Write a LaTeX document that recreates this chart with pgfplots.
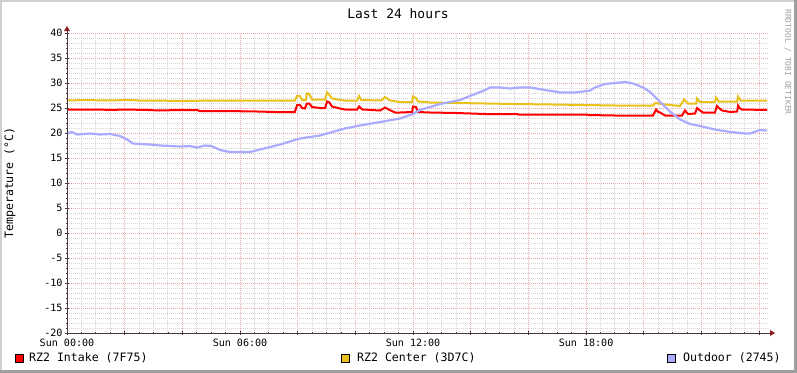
\documentclass[border=0pt]{standalone}
\usepackage{pgfplots}
\pgfplotsset{compat=1.18}
\usepackage{fontspec}
\setmainfont{DejaVu Sans Mono}
\usetikzlibrary{arrows.meta}
\definecolor{intake}{HTML}{FF0000}
\definecolor{center}{HTML}{EAC11A}
\definecolor{outdoor}{HTML}{AAAAFF}
\definecolor{majgrid}{HTML}{EBA8A8}
\definecolor{mingrid}{HTML}{D4D4D4}
\definecolor{axiscol}{HTML}{4A3838}
\definecolor{arrowcol}{HTML}{8B1A1A}
\definecolor{shadeA}{HTML}{CFCFCF}
\definecolor{shadeB}{HTML}{9E9E9E}
\definecolor{wmark}{HTML}{A0A0A0}
\newcommand{\axisfont}{\fontsize{10.1}{12}\selectfont}
\newcommand{\legfont}{\fontsize{11.6}{13}\selectfont}
\newcommand{\titfont}{\fontsize{13}{15}\selectfont}
\begin{document}
\begin{tikzpicture}
\useasboundingbox (0,0) rectangle (797bp,373bp);
\fill[white] (0,0) rectangle (797bp,373bp);
\fill[shadeA] (0,0) rectangle (1.5bp,373bp);
\fill[shadeA] (0,371bp) rectangle (797bp,373bp);
\fill[shadeB] (794bp,0) rectangle (797bp,373bp);
\fill[shadeB] (0,0) rectangle (797bp,2.5bp);
\begin{axis}[
  at={(67bp,40bp)}, anchor=south west,
  scale only axis, width=701bp, height=300bp,
  xmin=0, xmax=24.31, ymin=-20, ymax=40,
  clip=false,
  axis line style={draw=none},
  xtick={0,2,...,24},
  xticklabels={Sun 00:00,,,Sun 06:00,,,Sun 12:00,,,Sun 18:00,,,},
  minor x tick num=3,
  ytick={-20,-15,...,40},
  yticklabels={-20,-15,-10,-5,0,5,10,15,20,25,30,35,40},
  minor y tick num=4,
  tick align=center,
  major tick length=4bp, minor tick length=2bp,
  every tick/.style={axiscol, line width=0.8bp},
  xtick pos=bottom, ytick pos=left,
  grid=both,
  major grid style={majgrid, line width=0.9bp, dash pattern=on 1bp off 1bp},
  minor grid style={mingrid, line width=0.9bp, dash pattern=on 1bp off 1bp},
  tick label style={font=\axisfont},
  xticklabel style={yshift=-0.5bp},
  yticklabel style={xshift=1bp},
]
\addplot[center, line width=2bp] coordinates {
(0,26.5)(0.7,26.6)(1.3,26.5)(2.2,26.6)(2.5,26.5)(4.5,26.4)(4.61,26.5)(7.9,26.5)
(7.98,27.4)(8.08,27.4)(8.15,26.6)(8.28,26.6)(8.32,27.9)(8.40,27.8)(8.50,26.7)
(8.95,26.7)(9.02,28.1)(9.10,27.6)(9.19,26.9)(9.47,26.6)(9.64,26.5)(10.06,26.5)
(10.13,27.4)(10.20,26.6)(10.9,26.5)(11.03,27.2)(11.20,26.5)(11.55,26.2)(11.97,26.2)
(12.00,27.3)(12.10,27.0)(12.17,26.3)(12.59,26.1)(14.5,25.9)(15.5,25.8)(16.86,25.7)
(19.0,25.5)(20.32,25.5)(20.40,26.0)(20.6,25.8)(21.26,25.4)(21.40,26.7)(21.50,26.1)
(21.54,25.9)(21.82,25.9)(21.85,26.9)(21.95,26.2)(22.47,26.2)(22.51,27.1)(22.60,26.3)
(23.24,26.3)(23.27,27.3)(23.36,26.5)(24.28,26.5)
};
\addplot[intake, line width=2bp] coordinates {
(0,24.7)(1.1,24.7)(1.5,24.6)(2.0,24.7)(2.8,24.6)(3.2,24.5)(3.9,24.6)(4.5,24.6)
(4.6,24.4)(5.5,24.4)(6.6,24.3)(7.2,24.2)(7.9,24.2)(7.98,25.6)(8.08,25.6)(8.15,25.0)
(8.25,24.9)(8.32,25.9)(8.40,25.9)(8.50,25.2)(8.77,25.0)(8.95,25.0)(9.02,26.3)
(9.10,26.1)(9.19,25.3)(9.47,24.9)(9.64,24.7)(10.06,24.7)(10.13,25.3)(10.20,24.9)
(10.25,24.7)(10.86,24.5)(11.03,25.1)(11.15,24.7)(11.38,24.1)(11.55,24.1)(11.97,24.2)
(12.00,25.3)(12.10,25.2)(12.17,24.2)(12.59,24.1)(13.5,24.0)(14.5,23.8)(15.61,23.8)
(15.65,23.7)(18.05,23.7)(18.07,23.6)(19.0,23.5)(20.32,23.5)(20.43,24.7)(20.50,24.2)
(20.57,24.1)(20.74,23.5)(21.33,23.5)(21.43,24.5)(21.54,23.8)(21.78,23.9)(21.85,25.0)
(21.95,24.5)(22.06,24.1)(22.47,24.1)(22.54,25.4)(22.65,24.8)(22.72,24.5)(23.00,24.2)
(23.24,24.3)(23.27,25.5)(23.34,24.9)(23.41,24.7)(24.28,24.6)
};
\addplot[outdoor, line width=2.2bp] coordinates {
(0,19.9)(0.17,20.2)(0.35,19.7)(0.8,19.9)(1.14,19.7)(1.49,19.8)(1.84,19.4)(2.08,18.7)
(2.29,17.9)(2.53,17.8)(2.88,17.7)(3.23,17.5)(3.92,17.3)(4.27,17.4)(4.51,17.1)
(4.79,17.5)(5.0,17.4)(5.31,16.6)(5.65,16.2)(6.35,16.2)(6.69,16.7)(7.39,17.7)
(8.08,18.9)(8.77,19.5)(9.64,20.9)(10.16,21.5)(10.86,22.2)(11.55,22.9)(12.0,23.8)
(12.24,24.6)(12.94,25.8)(13.63,26.6)(14.15,27.8)(14.50,28.6)(14.67,29.1)(15.02,29.1)
(15.36,28.9)(15.71,29.1)(16.06,29.1)(16.58,28.6)(16.92,28.3)(17.10,28.1)(17.62,28.1)
(18.14,28.5)(18.31,29.1)(18.66,29.8)(19.35,30.2)(19.63,29.9)(19.98,29.1)(20.22,28.2)
(20.57,26.2)(20.91,24.3)(21.26,22.7)(21.61,21.8)(21.95,21.4)(22.47,20.7)(23.00,20.2)
(23.52,19.9)(23.69,19.9)(24.03,20.6)(24.28,20.5)
};
\draw[axiscol, line width=1bp] (rel axis cs:0,0) -- ([xshift=3bp]rel axis cs:1,0);
\draw[axiscol, line width=1bp] (rel axis cs:0,0) -- ([yshift=3bp]rel axis cs:0,1);
\fill[arrowcol] ([xshift=2bp,yshift=3bp]rel axis cs:1,0) -- ([xshift=7bp]rel axis cs:1,0) -- ([xshift=2bp,yshift=-3bp]rel axis cs:1,0) -- cycle;
\fill[arrowcol] ([xshift=-3bp,yshift=2bp]rel axis cs:0,1) -- ([yshift=7bp]rel axis cs:0,1) -- ([xshift=3bp,yshift=2bp]rel axis cs:0,1) -- cycle;
\end{axis}
\node[font=\titfont, anchor=center] at (398bp,359bp) {Last 24 hours};
\node[font=\legfont, rotate=90, anchor=center] at (10bp,190bp) {Temperature (°C)};
\node[font=\fontsize{8}{9}\selectfont, text=wmark, rotate=-90, anchor=center] at (788bp,311bp) {RRDTOOL / TOBI OETIKER};
\draw[black, fill=intake, line width=0.8bp] (15bp,11bp) rectangle (23bp,19bp);
\node[font=\legfont, anchor=west, inner sep=0pt] at (29bp,15bp) {RZ2 Intake (7F75)};
\draw[black, fill=center, line width=0.8bp] (341bp,11bp) rectangle (349bp,19bp);
\node[font=\legfont, anchor=west, inner sep=0pt] at (357bp,15bp) {RZ2 Center (3D7C)};
\draw[black, fill=outdoor, line width=0.8bp] (667bp,11bp) rectangle (675bp,19bp);
\node[font=\legfont, anchor=west, inner sep=0pt] at (683bp,15bp) {Outdoor (2745)};
\end{tikzpicture}
\end{document}
